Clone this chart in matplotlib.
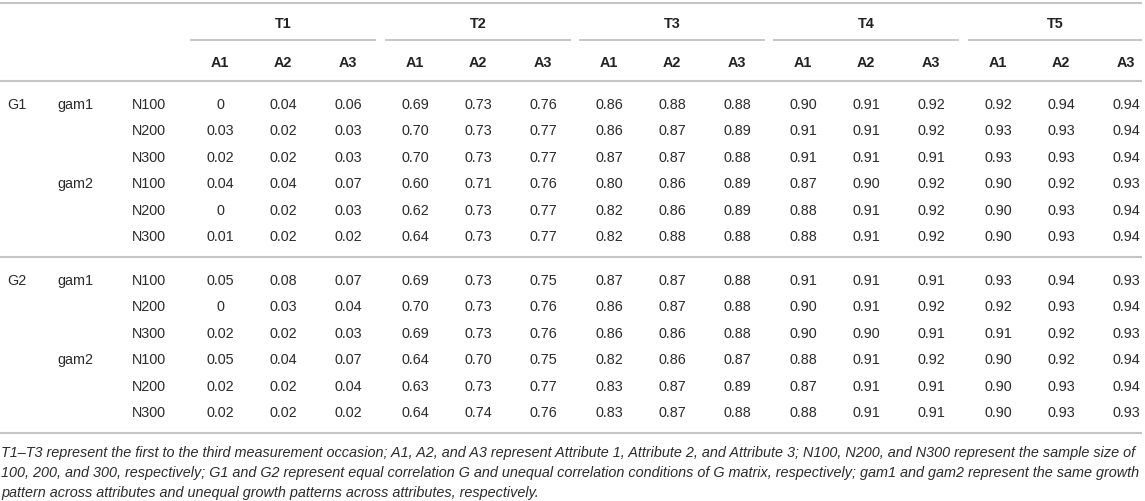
import matplotlib
matplotlib.use("Agg")
import matplotlib.pyplot as plt

# ---------------- data ----------------
time_points = ["T1", "T2", "T3", "T4", "T5"]
attributes = ["A1", "A2", "A3"]
g_labels = ["G1", "G2"]
gam_labels = ["gam1", "gam2"]
n_labels = ["N100", "N200", "N300"]

g1_gam1 = [
    [0, .04, .06, .69, .73, .76, .86, .88, .88, .90, .91, .92, .92, .94, .94],
    [.03, .02, .03, .70, .73, .77, .86, .87, .89, .91, .91, .92, .93, .93, .94],
    [.02, .02, .03, .70, .73, .77, .87, .87, .88, .91, .91, .91, .93, .93, .94],
]
g1_gam2 = [
    [.04, .04, .07, .60, .71, .76, .80, .86, .89, .87, .90, .92, .90, .92, .93],
    [0, .02, .03, .62, .73, .77, .82, .86, .89, .88, .91, .92, .90, .93, .94],
    [.01, .02, .02, .64, .73, .77, .82, .88, .88, .88, .91, .92, .90, .93, .94],
]
g2_gam1 = [
    [.05, .08, .07, .69, .73, .75, .87, .87, .88, .91, .91, .91, .93, .94, .93],
    [0, .03, .04, .70, .73, .76, .86, .87, .88, .90, .91, .92, .92, .93, .94],
    [.02, .02, .03, .69, .73, .76, .86, .86, .88, .90, .90, .91, .91, .92, .93],
]
g2_gam2 = [
    [.05, .04, .07, .64, .70, .75, .82, .86, .87, .88, .91, .92, .90, .92, .94],
    [.02, .02, .04, .63, .73, .77, .83, .87, .89, .87, .91, .91, .90, .93, .94],
    [.02, .02, .02, .64, .74, .76, .83, .87, .88, .88, .91, .91, .90, .93, .93],
]

footnote = [
    "T1\u2013T3 represent the first to the third measurement occasion; A1, A2, and A3 represent Attribute 1, Attribute 2, and Attribute 3; N100, N200, and N300 represent the sample size of",
    "100, 200, and 300, respectively; G1 and G2 represent equal correlation G and unequal correlation conditions of G matrix, respectively; gam1 and gam2 represent the same growth",
    "pattern across attributes and unequal growth patterns across attributes, respectively.",
]

# ---------------- layout ----------------
W, H = 1145, 501
fig = plt.figure(figsize=(W / 100, H / 100), dpi=100)
ax = fig.add_axes([0, 0, 1, 1])
ax.set_xlim(0, W)
ax.set_ylim(H, 0)
ax.axis("off")

FONT = "Liberation Sans"
TXT = "#2b2b2b"
LINE = "#c4c4c4"
FS = 10.4
FS_NOTE = 10.4
base_off = 5.0  # baseline below visual centre

group_starts = [190, 385, 579, 773, 968]
group_width = 186
col_offsets = [30, 93, 158]

def hline(x0, x1, y, lw=1.5):
    ax.plot([x0, x1], [y, y], color=LINE, lw=lw, solid_capstyle="butt")

# rules
hline(0, 1142, 3)
hline(0, 1142, 81)
hline(0, 1142, 257)
hline(0, 1142, 433)

# time headers
for g, t in enumerate(time_points):
    s = group_starts[g]
    e = min(s + group_width, 1142)
    ax.text((s + e) / 2, 23 + base_off, t, ha="center", va="baseline",
            fontsize=FS, fontweight="bold", family=FONT, color="#222222")
    hline(s, e, 40, lw=1.3)
    for a, lab in enumerate(attributes):
        ax.text(s + col_offsets[a], 61.5 + base_off, lab, ha="center", va="baseline",
                fontsize=FS, fontweight="bold", family=FONT, color="#222222")

def fmt(v):
    return "0" if v == 0 else f"{v:.2f}"

blocks = [(0, 0, g1_gam1), (0, 1, g1_gam2), (1, 0, g2_gam1), (1, 1, g2_gam2)]
block_top = [104, 280]
row_step = 26.4
for gi, mi, rows in blocks:
    for r, vals in enumerate(rows):
        idx = mi * 3 + r
        y = block_top[gi] + idx * row_step + base_off
        if idx == 0:
            ax.text(7, y, g_labels[gi], ha="left", va="baseline", fontsize=FS,
                    family=FONT, color=TXT)
        if r == 0:
            ax.text(57, y, gam_labels[mi], ha="left", va="baseline", fontsize=FS,
                    family=FONT, color=TXT)
        ax.text(132, y, n_labels[r], ha="left", va="baseline", fontsize=FS,
                family=FONT, color=TXT)
        for k, v in enumerate(vals):
            g, a = divmod(k, 3)
            ax.text(group_starts[g] + col_offsets[a], y, fmt(v), ha="center",
                    va="baseline", fontsize=FS, family=FONT, color=TXT)

for i, line in enumerate(footnote):
    ax.text(1, 452 + i * 20 + base_off, line, ha="left", va="baseline",
            fontsize=FS_NOTE, style="italic", family=FONT, color=TXT)

fig.savefig("out.png", dpi=100)
